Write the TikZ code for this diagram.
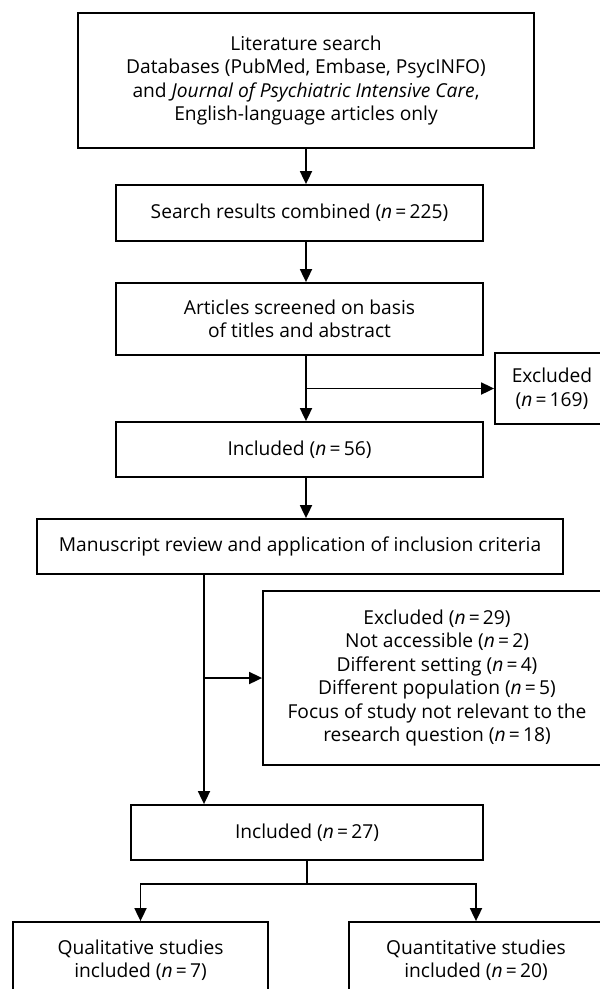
\documentclass[tikz,border=0pt]{standalone}
\usepackage{fontspec}
\setmainfont{Open Sans}
\usetikzlibrary{arrows.meta}

\newcommand{\ncount}[1]{(\textit{n}\,=\,#1)}

\begin{document}
\begin{tikzpicture}[
    % GLOBAL CFG
    x=1pt, y=-1pt,
    font=\fontsize{19.2}{23.5}\selectfont,
    >={Triangle[length=13pt,width=12pt]},
    % Styles
    stage/.style={% For the boxes of the flow
        rectangle,
        draw,
        line width=1.8pt,
        inner sep=0pt,
        align=center,
        },
    flow/.style={% For the connectors
        line width=1.8pt,
        },
    ]

% Frame of the page (the outer boxes run off it)
\clip (0,0) rectangle (600,989);

% Draw the boxes
\node [stage, minimum width=456pt, minimum height=135pt] (lit) at (306,80.5)
    {Literature search\\ Databases (PubMed, Embase, PsycINFO)\\ and \textit{Journal of Psychiatric Intensive Care},\\ English-language articles only};
\node [stage, minimum width=367pt, minimum height=56pt] (search) at (299.5,213) {Search results combined \ncount{225}};
\node [stage, minimum width=367pt, minimum height=72pt] (screen) at (299.5,319) {Articles screened on basis\\ of titles and abstract};
\node [stage, minimum width=114pt, minimum height=71pt] (excl1) at (552,388.5) {Excluded\\ \ncount{169}};
\node [stage, minimum width=367pt, minimum height=55pt] (inc56) at (299.5,449.5) {Included \ncount{56}};
\node [stage, minimum width=526pt, minimum height=55pt] (manu) at (300,546.5) {Manuscript review and application of inclusion criteria};
\node [stage, minimum width=348pt, minimum height=174pt] (excl2) at (437,678)
    {Excluded \ncount{29}\\ Not accessible \ncount{2}\\ Different setting \ncount{4}\\ Different population \ncount{5}\\ Focus of study not relevant to the\\ research question \ncount{18}};
\node [stage, minimum width=352pt, minimum height=55pt] (inc27) at (307,832.5) {Included \ncount{27}};
\node [stage, minimum width=255pt, minimum height=76pt] (qual) at (140.5,960) {Qualitative studies\\ included \ncount{7}};
\node [stage, minimum width=254pt, minimum height=76pt] (quan) at (476,960) {Quantitative studies\\ included \ncount{20}};

% Points where the lines split
\coordinate (drop) at (204,0);
\coordinate (fork) at (307,884);

% Connectors
\draw [->, flow] (lit.south) -- (lit.south |- search.north);
\draw [->, flow] (search.south -| lit.south) -- (screen.north -| lit.south);
\draw [->, flow] (screen.south -| lit.south) -- (inc56.north -| lit.south);
\draw [->, flow] (lit.south |- excl1.west) -- (excl1.west);
\draw [->, flow] (inc56.south -| lit.south) -- (manu.north -| lit.south);
\draw [->, flow] (manu.south -| drop) -- (inc27.north -| drop);
\draw [->, flow] (drop |- excl2.west) -- (excl2.west);
\draw [flow] (inc27.south) -- (fork);
\draw [->, flow] (fork) -| (qual.north);
\draw [->, flow] (fork) -| (quan.north);

\end{tikzpicture}
\end{document}
